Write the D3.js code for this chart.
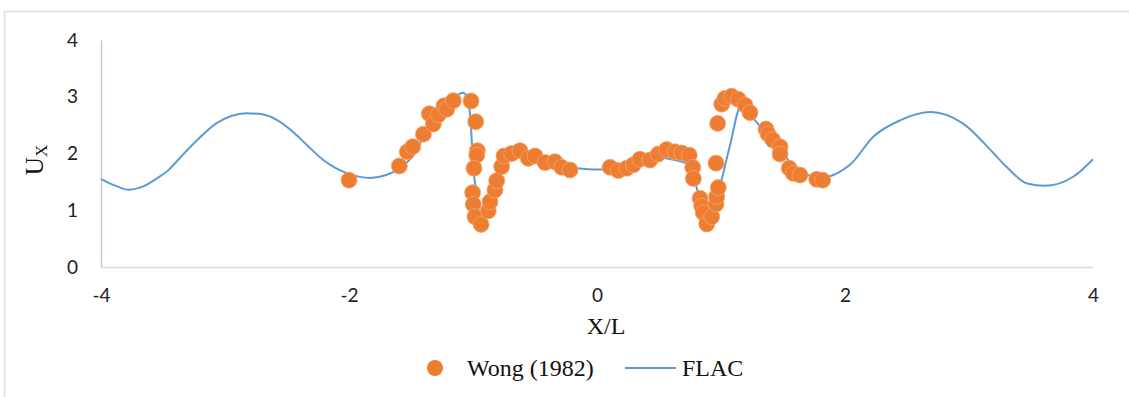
<!DOCTYPE html>
<meta charset="utf-8">
<script src="https://cdn.jsdelivr.net/npm/d3@7"></script>
<style>
  body { margin: 0; background: #fff; }
</style>
<div id="chart"></div>
<script>
// FLAC curve
const flacX = [-4.0, -3.88, -3.78, -3.66, -3.55, -3.45, -3.39, -3.25, -3.07, -2.95, -2.83, -2.7, -2.58, -2.45, -2.34, -2.21, -2.0, -1.83, -1.7, -1.59, -1.48, -1.37, -1.27, -1.16, -1.08, -1.05, -1.02, -1.0, -0.97, -0.93, -0.89, -0.82, -0.76, -0.65, -0.51, -0.38, -0.16, -0.03, 0.08, 0.2, 0.35, 0.48, 0.62, 0.75, 0.8, 0.84, 0.94, 0.965, 1.07, 1.16, 1.21, 1.32, 1.45, 1.54, 1.69, 1.85, 1.96, 2.04, 2.23, 2.44, 2.69, 2.95, 3.2, 3.3, 3.47, 3.61, 3.84, 4.0];
const flacY = [1.55, 1.43, 1.36, 1.42, 1.56, 1.72, 1.86, 2.18, 2.53, 2.66, 2.71, 2.69, 2.59, 2.38, 2.15, 1.89, 1.64, 1.57, 1.62, 1.74, 1.97, 2.41, 2.74, 2.97, 3.07, 3.0, 2.59, 1.83, 1.24, 0.71, 1.06, 1.47, 1.77, 1.92, 1.96, 1.89, 1.74, 1.72, 1.72, 1.78, 1.89, 1.93, 1.89, 1.8, 1.42, 1.18, 1.12, 1.24, 2.12, 2.83, 2.74, 2.47, 2.21, 1.89, 1.62, 1.59, 1.68, 1.8, 2.3, 2.58, 2.73, 2.53, 2.0, 1.77, 1.47, 1.43, 1.59, 1.9];

// Wong (1982) points
const wongX = [-2.0, -1.594, -1.53, -1.486, -1.4, -1.352, -1.32, -1.28, -1.234, -1.212, -1.159, -1.016, -0.978, -0.965, -0.97, -0.992, -1.003, -0.998, -0.984, -0.935, -0.877, -0.863, -0.823, -0.809, -0.769, -0.75, -0.688, -0.621, -0.554, -0.5, -0.419, -0.339, -0.285, -0.218, 0.105, 0.172, 0.24, 0.293, 0.347, 0.427, 0.494, 0.562, 0.629, 0.683, 0.744, 0.772, 0.777, 0.831, 0.844, 0.857, 0.885, 0.925, 0.96, 0.965, 0.978, 0.96, 0.973, 1.006, 1.032, 1.086, 1.14, 1.194, 1.234, 1.363, 1.38, 1.417, 1.476, 1.476, 1.55, 1.583, 1.637, 1.772, 1.82];
const wongY = [1.53, 1.78, 2.03, 2.12, 2.34, 2.7, 2.52, 2.68, 2.84, 2.78, 2.93, 2.925, 2.56, 2.05, 1.97, 1.74, 1.31, 1.105, 0.886, 0.75, 0.99, 1.15, 1.357, 1.52, 1.77, 1.956, 2.0, 2.05, 1.915, 1.956, 1.84, 1.855, 1.757, 1.71, 1.757, 1.7, 1.74, 1.8, 1.9, 1.885, 1.99, 2.07, 2.03, 2.01, 1.97, 1.757, 1.56, 1.21, 1.075, 0.957, 0.758, 0.886, 1.11, 1.24, 1.4, 1.83, 2.53, 2.87, 2.97, 3.01, 2.955, 2.85, 2.72, 2.43, 2.34, 2.24, 2.12, 1.99, 1.74, 1.65, 1.62, 1.545, 1.53];

const xTicks = [-4, -2, 0, 2, 4];
const yTicks = [0, 1, 2, 3, 4];

const W = 1129, H = 397;
const plot = {left: 101, right: 1093, top: 40, bottom: 267};
const tickFont = "Lato, 'Open Sans', sans-serif";
const serif = "'Liberation Serif', 'Times New Roman', serif";

const svg = d3.select("#chart").append("svg")
    .attr("width", W)
    .attr("height", H);

svg.append("rect").attr("width", W).attr("height", H).attr("fill", "#fff");

// outer chart border (only top and left show)
svg.append("path")
    .attr("d", "M4.5," + (H + 2) + "V11.5H" + (W + 2))
    .attr("fill", "none")
    .attr("stroke", "#dbe0e8")
    .attr("stroke-width", 1.5);

let x = d3.scaleLinear().domain([-4, 4]).range([plot.left, plot.right]);
let y = d3.scaleLinear().domain([0, 4]).range([plot.bottom, plot.top]);

// x axis
let xAxis = svg.append("g")
    .attr("transform", "translate(0," + plot.bottom + ")")
    .call(d3.axisBottom(x).tickValues(xTicks).tickSize(0).tickPadding(22)
        .tickFormat(function(d) { return String(d) }));
xAxis.select(".domain").attr("stroke", "#d9d9d9").attr("stroke-width", 1.5);
xAxis.selectAll("text")
    .attr("font-family", tickFont)
    .attr("font-size", 19)
    .attr("fill", "#222");

// y axis
let yAxis = svg.append("g")
    .attr("transform", "translate(" + plot.left + ",0)")
    .call(d3.axisLeft(y).tickValues(yTicks).tickSize(0).tickPadding(23)
        .tickFormat(function(d) { return String(d) }));
yAxis.select(".domain").attr("stroke", "#bfcadc").attr("stroke-width", 1.5);
yAxis.selectAll("text")
    .attr("font-family", tickFont)
    .attr("font-size", 19)
    .attr("fill", "#222");

// axis titles
svg.append("text")
    .attr("x", 606)
    .attr("y", 334)
    .attr("text-anchor", "middle")
    .attr("font-family", serif)
    .attr("font-size", 24)
    .attr("fill", "#111")
    .text("X/L");

let yt = svg.append("text")
    .attr("transform", "translate(43,160) rotate(-90)")
    .attr("text-anchor", "middle")
    .attr("font-family", serif)
    .attr("font-size", 25)
    .attr("fill", "#111");
yt.append("tspan").text("U");
yt.append("tspan").attr("font-size", 17).attr("dy", 4).text("X");

// FLAC line
let line = d3.line()
    .x(function(d, i) { return x(flacX[i]) })
    .y(function(d, i) { return y(flacY[i]) })
    .curve(d3.curveMonotoneX);

svg.append("path")
    .datum(flacX)
    .attr("fill", "none")
    .attr("stroke", "#5b9bd5")
    .attr("stroke-width", 2)
    .attr("d", line);

// Wong points
svg.append("g")
    .selectAll("circle")
    .data(wongX)
    .enter()
    .append("circle")
    .attr("cx", function(d) { return x(d) })
    .attr("cy", function(d, i) { return y(wongY[i]) })
    .attr("r", 8)
    .attr("fill", "#ed7d31")
    .attr("stroke", "#f4a56e")
    .attr("stroke-width", 0.8);

// legend
let legend = svg.append("g").attr("transform", "translate(0,368)");
legend.append("circle")
    .attr("cx", 435).attr("cy", 0).attr("r", 8)
    .attr("fill", "#ed7d31");
legend.append("text")
    .attr("x", 467).attr("y", 8)
    .attr("font-family", serif)
    .attr("font-size", 24)
    .attr("fill", "#111")
    .text("Wong (1982)");
legend.append("line")
    .attr("x1", 625).attr("x2", 676)
    .attr("stroke", "#5b9bd5").attr("stroke-width", 2);
legend.append("text")
    .attr("x", 682).attr("y", 8)
    .attr("font-family", serif)
    .attr("font-size", 24)
    .attr("fill", "#111")
    .text("FLAC");
</script>
